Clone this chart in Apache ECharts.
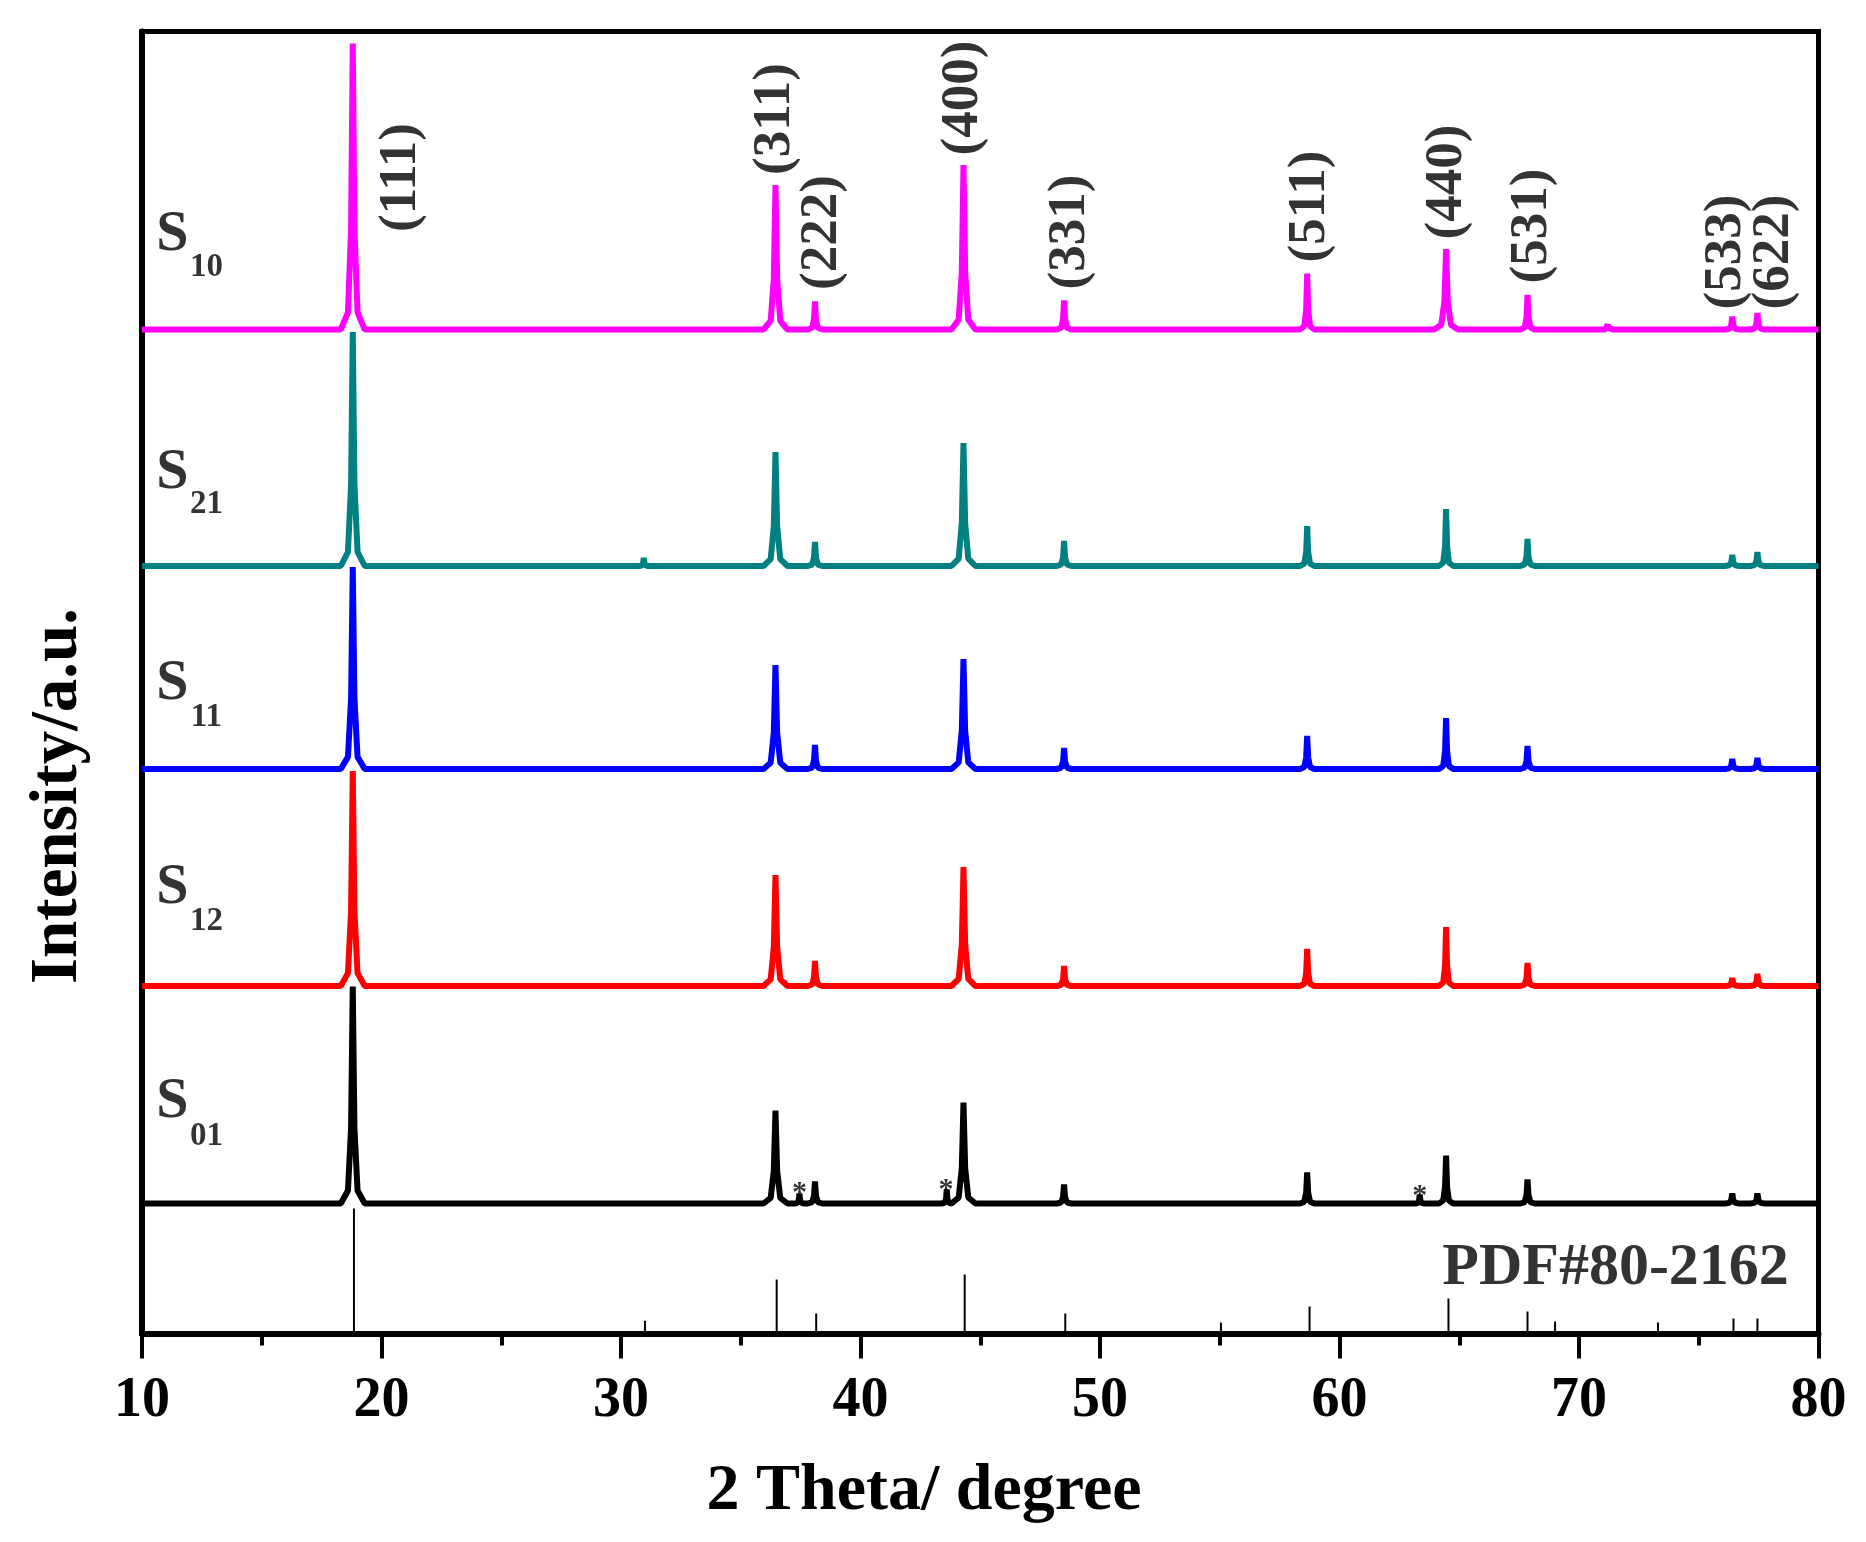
<!DOCTYPE html>
<html><head><meta charset="utf-8">
<script src="https://cdn.jsdelivr.net/npm/echarts@6/dist/echarts.min.js"></script>
<style>html,body{margin:0;padding:0;background:#fff}#c{width:1866px;height:1542px}</style>
</head><body><div id="c"></div>
<script>
// ---- data ----
const xTicks = [10, 20, 30, 40, 50, 60, 70, 80];
const peakPositions = [18.8, 36.45, 38.1, 44.3, 48.5, 58.65, 64.45, 67.85, 76.4, 77.45];
const sampleNames = ['S10', 'S21', 'S11', 'S12', 'S01'];
const sampleSubs = ['10', '21', '11', '12', '01'];
const sampleColors = ['#FF00FF', '#008080', '#0000FF', '#FF0000', '#000000'];
const baselines = [1004, 767.5, 564.5, 347.5, 130];
const peaksS10 = [286, 144.5, 28, 164.5, 29, 56, 80.5, 34.5, 13, 16.5];
const peaksS21 = [234, 114, 24, 123, 25, 40, 57, 27, 11, 14];
const peaksS11 = [202, 104, 24, 110, 21, 33, 51, 23, 10, 11];
const peaksS12 = [215, 111, 25, 119, 20, 37, 59, 23, 8, 12];
const peaksS01 = [217, 93, 22, 101, 19, 31, 48, 24, 10, 10];
const extraS10 = [[71.2, 5]];
const extraS21 = [[30.95, 8]];
const extraS11 = [];
const extraS12 = [];
const extraS01 = [[37.45, 10], [43.6, 14], [63.35, 9]];
const pdfPositions = [18.85, 31.0, 36.5, 38.15, 44.35, 48.55, 55.05, 58.75, 64.55, 67.85, 69.0, 73.3, 76.45, 77.45];
const pdfHeights = [125, 12.7, 54, 20, 59, 20, 11, 27, 35, 22, 12, 11, 15, 15];
const hklText = ['(111)', '(311)', '(222)', '(400)', '(331)', '(511)', '(440)', '(531)', '(533)', '(622)'];
const hklX = [20.82, 36.45, 38.39, 44.29, 48.75, 58.8, 64.52, 68.04, 76.14, 78.17];
const hklY = [1156, 1214.5, 1101, 1235.5, 1101.5, 1127, 1151.5, 1107.5, 1081.5, 1081.5];
const labelSX = 11.27, labelSubX = 12.69;
const labelSY = [1098.5, 860.5, 649, 445.5, 231];
const labelSubY = [1066.5, 829, 616, 412.5, 197.5];
const starX = [37.45, 43.57, 63.35];
const starY = [146, 149, 143.5];
const pdfLabel = 'PDF#80-2162';
const pdfLabelPos = [78.93, 65.5];

const peakTables = [peaksS10, peaksS21, peaksS11, peaksS12, peaksS01];
const extraTables = [extraS10, extraS21, extraS11, extraS12, extraS01];

// ---- build polylines from the peak list ----
function buildPattern(base, heights, extras) {
  const peaks = peakPositions.map((p, i) => ({ x: p, h: heights[i], w: heights[i] > 60 ? 0.5 : 0.3 }))
    .concat(extras.map(e => ({ x: e[0], h: e[1], w: 0.2 })))
    .sort((a, b) => a.x - b.x);
  const pts = [[10, base]];
  peaks.forEach(pk => {
    pts.push([pk.x - pk.w, base]);
    pts.push([pk.x - pk.w * 0.4, base + pk.h * 0.06]);
    pts.push([pk.x - pk.w * 0.14, base + pk.h * 0.35]);
    pts.push([pk.x, base + pk.h]);
    pts.push([pk.x + pk.w * 0.14, base + pk.h * 0.35]);
    pts.push([pk.x + pk.w * 0.4, base + pk.h * 0.06]);
    pts.push([pk.x + pk.w, base]);
  });
  pts.push([80, base]);
  return pts;
}

const FONT = '"Liberation Serif", "Times New Roman", serif';
const lbl = (extra) => Object.assign({ show: true, position: 'inside', fontWeight: 'bold', fontFamily: FONT, color: '#000', textBorderWidth: 0, textShadowBlur: 0 }, extra);
const series = [];
sampleNames.forEach((n, i) => {
  series.push({
    name: n, type: 'line', data: buildPattern(baselines[i], peakTables[i], extraTables[i]),
    showSymbol: false, symbol: 'none', animation: false, z: 5 - i + 2,
    lineStyle: { color: sampleColors[i], width: 6, join: 'bevel' }
  });
});
series.push({
  name: 'PDF', type: 'bar', barWidth: 2, animation: false,
  itemStyle: { color: '#000' },
  data: pdfPositions.map((p, i) => [p, pdfHeights[i]])
});
const textItems = [];
hklText.forEach((t, i) => textItems.push({
  value: [hklX[i], hklY[i]], label: lbl({ formatter: t, rotate: 90, fontSize: 53 })
}));
sampleSubs.forEach((s, i) => {
  textItems.push({ value: [labelSX, labelSY[i]], label: lbl({ formatter: 'S', fontSize: 58 }) });
  textItems.push({ value: [labelSubX, labelSubY[i]], label: lbl({ formatter: s, fontSize: 33 }) });
});
starX.forEach((x, i) => textItems.push({
  value: [x, starY[i]], label: lbl({ formatter: '*', fontSize: 30, offset: [0, 6] })
}));
textItems.push({
  value: pdfLabelPos, label: lbl({ formatter: pdfLabel, position: 'left', distance: 4, fontSize: 60 })
});
series.push({ type: 'scatter', symbolSize: 0, silent: true, animation: false, z: 20, itemStyle: { color: '#000' }, data: textItems });

const chart = echarts.init(document.getElementById('c'), null, { renderer: 'canvas' });
chart.setOption({
  backgroundColor: '#fff',
  animation: false,
  grid: { left: 142, right: 47.5, top: 31.5, bottom: 208.5, show: true, borderColor: '#000', borderWidth: 5, backgroundColor: 'transparent' },
  xAxis: {
    type: 'value', min: xTicks[0], max: xTicks[xTicks.length - 1], interval: 10,
    axisLine: { show: true, lineStyle: { color: '#000', width: 6 } },
    axisTick: { show: true, inside: false, length: 25, lineStyle: { color: '#000', width: 4 } },
    minorTick: { show: true, splitNumber: 2, length: 12, lineStyle: { color: '#000', width: 4 } },
    splitLine: { show: false },
    axisLabel: { show: true, margin: 40, fontSize: 56, fontWeight: 'bold', fontFamily: FONT, color: '#000' }
  },
  yAxis: {
    type: 'value', min: 0, max: 1302,
    axisLine: { show: true, lineStyle: { color: '#000', width: 6 } },
    axisTick: { show: false }, axisLabel: { show: false }, splitLine: { show: false }
  },
  graphic: [
    { type: 'text', x: 924, y: 1492, style: { text: '2 Theta/ degree', font: 'bold 66px ' + FONT, fill: '#000', align: 'center', verticalAlign: 'middle', textAlign: 'center', textVerticalAlign: 'middle' } },
    { type: 'text', x: 58.5, y: 796, rotation: Math.PI / 2, style: { text: 'Intensity/a.u.', font: 'bold 67px ' + FONT, fill: '#000', align: 'center', verticalAlign: 'middle', textAlign: 'center', textVerticalAlign: 'middle' } }
  ],
  series: series
});
</script></body></html>
